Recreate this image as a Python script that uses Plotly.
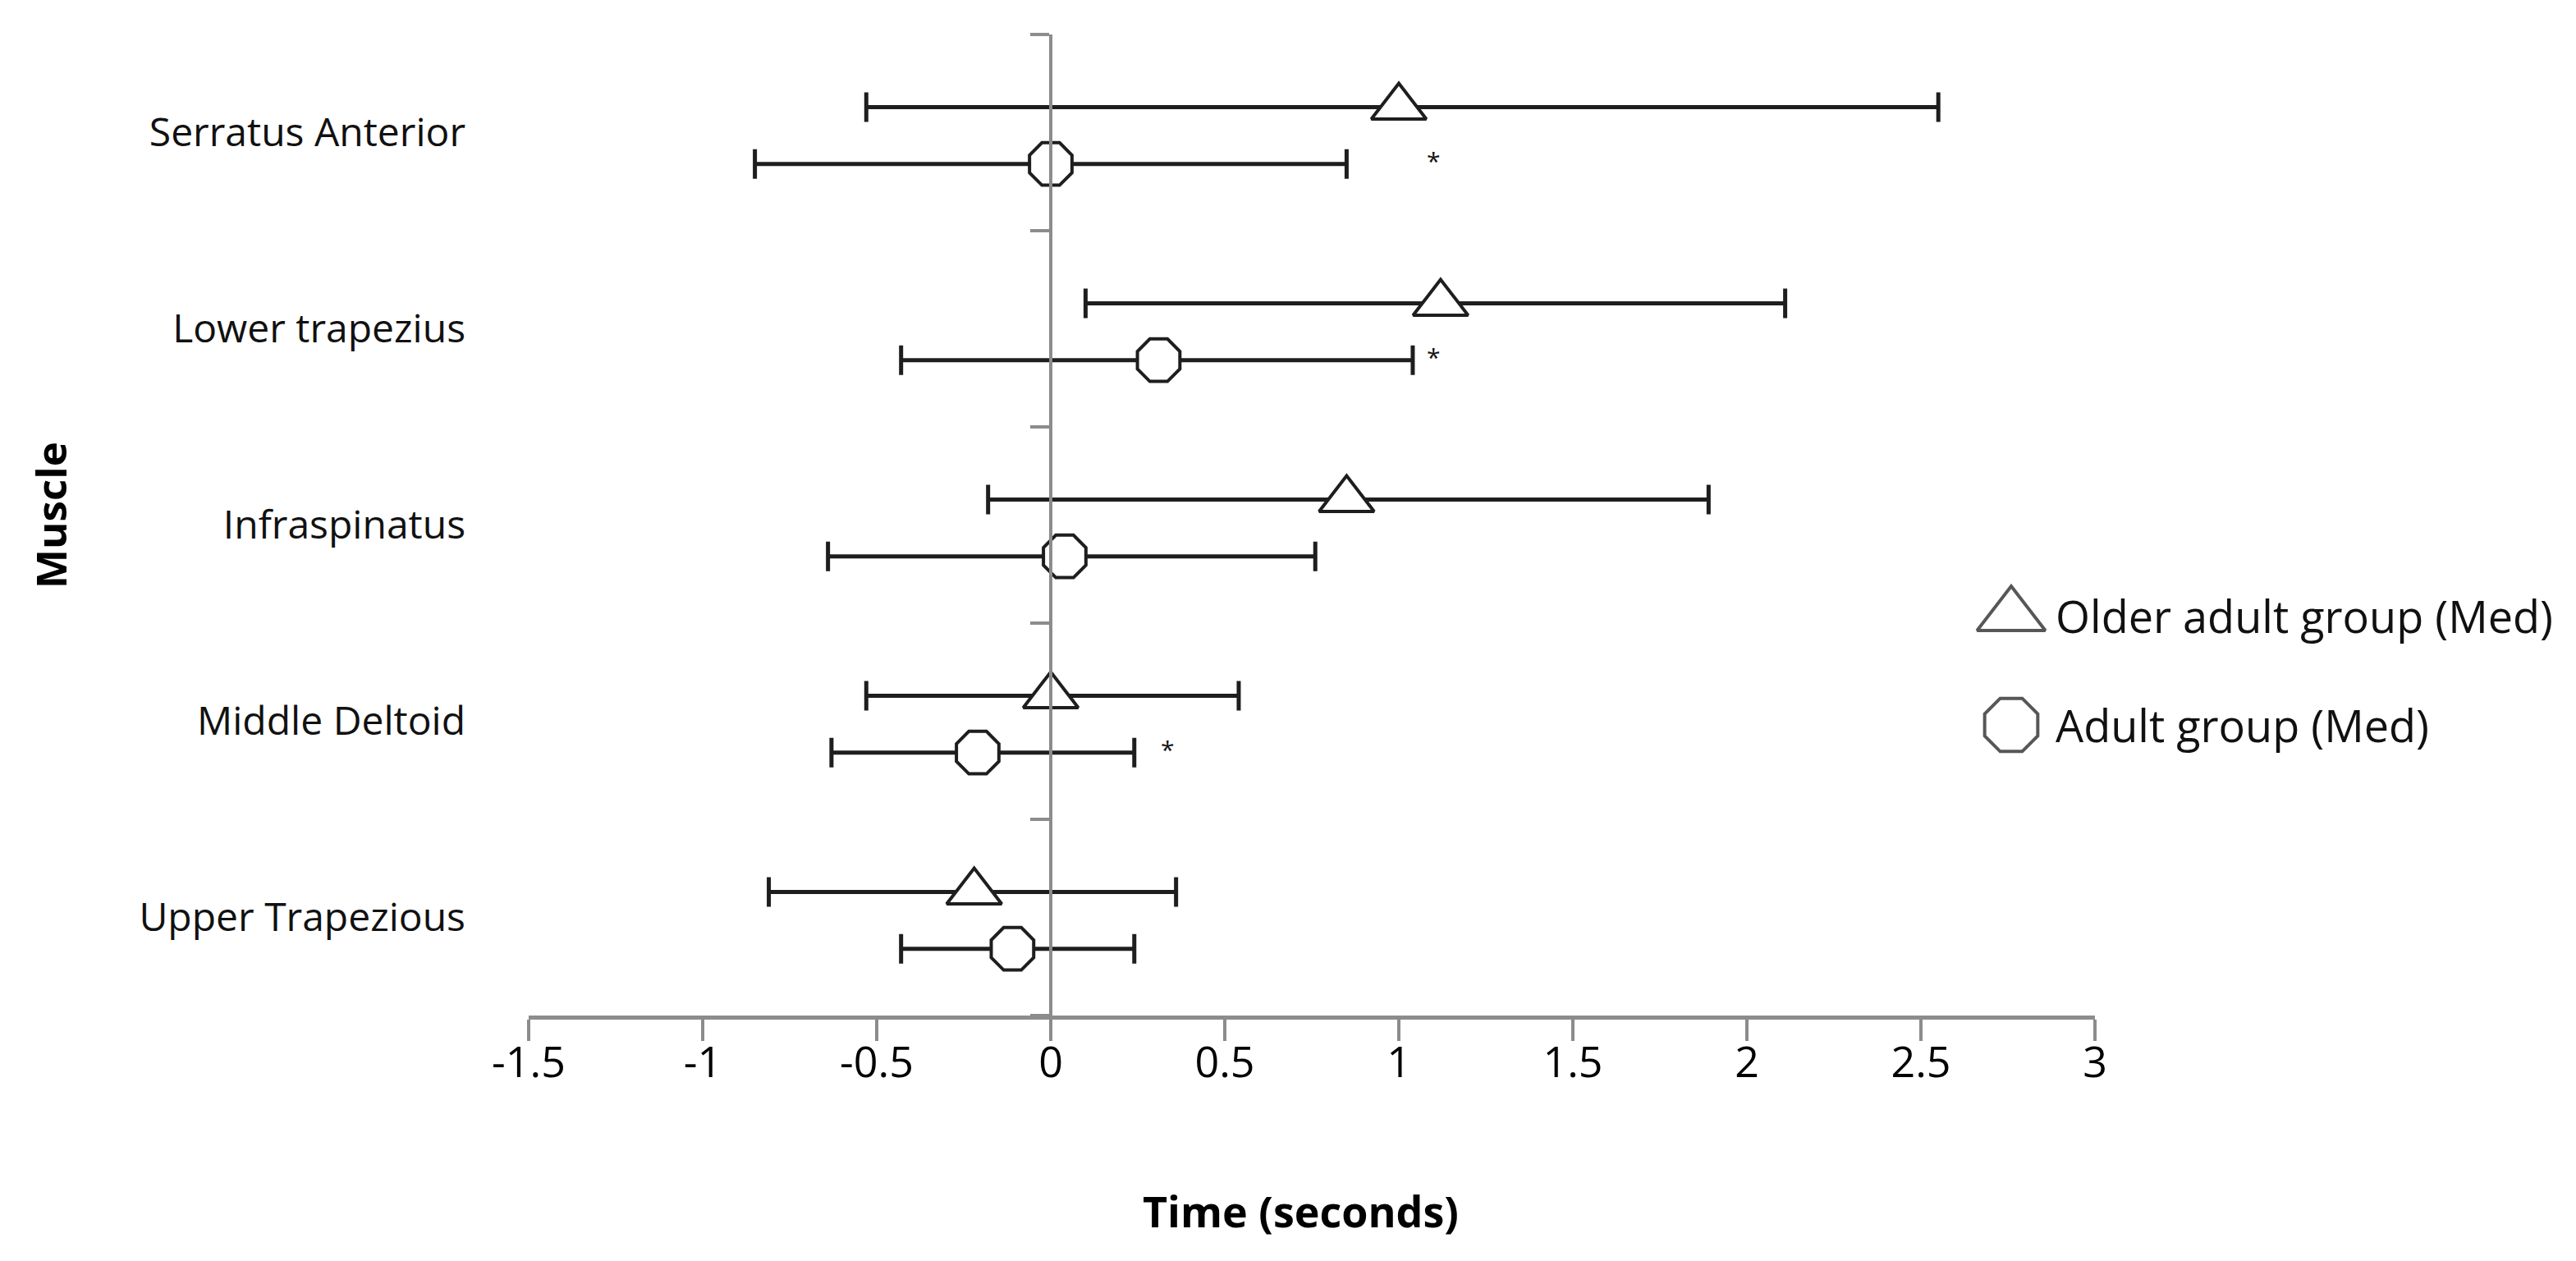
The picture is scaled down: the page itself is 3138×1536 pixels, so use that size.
import plotly.graph_objects as go

# ---------------- data ----------------
categories = ["Serratus Anterior", "Lower trapezius", "Infraspinatus",
              "Middle Deltoid", "Upper Trapezious"]          # top -> bottom
older_med = [1.00, 1.12, 0.85, 0.00, -0.22]
older_lo = [-0.53, 0.10, -0.18, -0.53, -0.81]
older_hi = [2.55, 2.11, 1.89, 0.54, 0.36]
adult_med = [0.00, 0.31, 0.04, -0.21, -0.11]
adult_lo = [-0.85, -0.43, -0.64, -0.63, -0.43]
adult_hi = [0.85, 1.04, 0.76, 0.24, 0.24]
sig_muscles = ["Serratus Anterior", "Lower trapezius", "Middle Deltoid"]
sig_x = [1.10, 1.10, 0.335]
x_tick_vals = [-1.5, -1, -0.5, 0, 0.5, 1, 1.5, 2, 2.5, 3]
x_tick_text = ["-1.5", "-1", "-0.5", "0", "0.5", "1", "1.5", "2", "2.5", "3"]
series_names = ["Older adult group (Med)", "Adult group (Med)"]
x_title = "Time (seconds)"
y_title = "Muscle"

# ---------------- layout constants ----------------
W, H = 3138, 1536
ML, MR, MT, MB = 636, 594, 34, 307
PW, PH = W - ML - MR, H - MT - MB
FONT = "Open Sans, Lato, DejaVu Sans, sans-serif"
AXIS_GREY = "#8c8c8c"
INK = "#1e1e1e"
OFF_OLDER, OFF_ADULT = 0.13, -0.16

n = len(categories)
ypos = {c: n - 1 - i for i, c in enumerate(categories)}
y_older = [ypos[c] + OFF_OLDER for c in categories]
y_adult = [ypos[c] + OFF_ADULT for c in categories]


def px_to_paper_x(px):
    return (px - ML) / PW


def px_to_paper_y(py):
    return (H - MB - py) / PH


fig = go.Figure()

# invisible helper trace so the x=0 crossing axis (yaxis2) is drawn
fig.add_trace(go.Scatter(
    x=[0], y=[0], yaxis="y2", mode="markers", showlegend=False,
    hoverinfo="skip", marker=dict(opacity=0, size=1),
))


def add_series(med, lo, hi, ys, symbol, size, name):
    fig.add_trace(go.Scatter(
        x=med, y=ys, mode="markers", name=name, showlegend=False,
        marker=dict(symbol=symbol, size=size, color="white",
                    line=dict(color=INK, width=4)),
        error_x=dict(type="data", symmetric=False,
                     array=[h - m for h, m in zip(hi, med)],
                     arrayminus=[m - l for m, l in zip(med, lo)],
                     color=INK, thickness=5, width=18),
        cliponaxis=False,
    ))


add_series(older_med, older_lo, older_hi, y_older, "triangle-up", 58, series_names[0])
add_series(adult_med, adult_lo, adult_hi, y_adult, "octagon", 56, series_names[1])

# custom legend markers (drawn on an overlay axis pair spanning the plot area)
leg_x = px_to_paper_x(2442)
leg_y = [px_to_paper_y(742), px_to_paper_y(875)]
fig.add_trace(go.Scatter(
    x=[leg_x, leg_x], y=leg_y, xaxis="x3", yaxis="y3", mode="markers",
    showlegend=False, cliponaxis=False, hoverinfo="skip",
    marker=dict(symbol=["triangle-up", "octagon"], size=[72, 70], color="white",
                line=dict(color="#111", width=4)),
))

annotations = []
for name, yy in zip(series_names, leg_y):
    annotations.append(dict(
        text=name, xref="paper", yref="paper", x=px_to_paper_x(2494), y=yy,
        xanchor="left", yanchor="middle", showarrow=False,
        font=dict(family=FONT, size=54, color="#111")))

for m, sx in zip(sig_muscles, sig_x):
    annotations.append(dict(
        text="*", xref="x", yref="y", x=sx, y=ypos[m] + OFF_ADULT,
        xanchor="center", yanchor="middle", yshift=4, showarrow=False,
        font=dict(family=FONT, size=30, color="#111")))

annotations.append(dict(
    text="<b>%s</b>" % x_title, xref="paper", yref="paper",
    x=px_to_paper_x(1576), y=px_to_paper_y(1466),
    xanchor="center", yanchor="middle", showarrow=False,
    font=dict(family=FONT, size=52, color="#000")))
annotations.append(dict(
    text="<b>%s</b>" % y_title, xref="paper", yref="paper",
    x=px_to_paper_x(53), y=px_to_paper_y(620), textangle=-90,
    xanchor="center", yanchor="middle", showarrow=False,
    font=dict(family=FONT, size=51, color="#000")))

boundaries = [i - 0.5 for i in range(n + 1)]

fig.update_layout(
    width=W, height=H,
    margin=dict(l=ML, r=MR, t=MT, b=MB, pad=0),
    paper_bgcolor="white", plot_bgcolor="white",
    showlegend=False,
    font=dict(family=FONT, color="#000"),
    xaxis=dict(
        range=[-1.5, 3], tickvals=x_tick_vals, ticktext=x_tick_text,
        showline=True, linecolor=AXIS_GREY, linewidth=5,
        ticks="outside", ticklen=26, tickwidth=4, tickcolor=AXIS_GREY,
        showgrid=False, zeroline=False, ticklabelstandoff=-18,
        tickfont=dict(family=FONT, size=52, color="#000"),
        anchor="y",
    ),
    yaxis=dict(
        range=[-0.5, n - 0.5], tickvals=[ypos[c] for c in categories],
        ticktext=categories, ticks="", showline=False, showgrid=False,
        zeroline=False, ticklabelstandoff=76,
        tickfont=dict(family=FONT, size=48, color="#111"),
    ),
    yaxis2=dict(
        overlaying="y", anchor="free", position=1.5 / 4.5, side="left",
        range=[-0.5, n - 0.5], tickvals=boundaries, showticklabels=False,
        showline=True, linecolor=AXIS_GREY, linewidth=4,
        ticks="outside", ticklen=23, tickwidth=4, tickcolor=AXIS_GREY,
        showgrid=False, zeroline=False,
    ),
    xaxis3=dict(overlaying="x", anchor="y3", range=[0, 1], visible=False),
    yaxis3=dict(overlaying="y", anchor="x3", range=[0, 1], visible=False),
    annotations=annotations,
)

fig.write_html("out.html")
